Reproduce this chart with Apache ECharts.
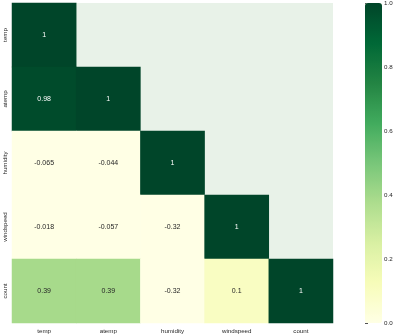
<!DOCTYPE html>
<html><head><meta charset="utf-8">
<script src="https://cdn.jsdelivr.net/npm/echarts@6/dist/echarts.min.js"></script>
<style>html,body{margin:0;padding:0;background:#fff}#c{width:396px;height:335px}</style>
</head><body><div id="c"></div>
<script>
const categories = ['temp', 'atemp', 'humidity', 'windspeed', 'count'];
const rowTemp = [1];
const rowAtemp = [0.98, 1];
const rowHumidity = [-0.065, -0.044, 1];
const rowWindspeed = [-0.018, -0.057, -0.32, 1];
const rowCount = [0.39, 0.39, -0.32, 0.1, 1];
const rows = [rowTemp, rowAtemp, rowHumidity, rowWindspeed, rowCount];
const colorbarTicks = [0, 0.2, 0.4, 0.6, 0.8, 1.0];
const ylgn = ['#ffffe5','#f7fcb9','#d9f0a3','#addd8e','#78c679','#41ab5d','#238443','#006837','#004529'];

const data = [];
rows.forEach((r, yi) => r.forEach((v, xi) => {
  data.push({ value: [xi, yi, v], label: { color: v >= 0.6 ? '#ffffff' : '#262626' } });
}));

const FONT = 'Liberation Sans, Arial, sans-serif';
const chart = echarts.init(document.getElementById('c'), null, { renderer: 'canvas' });
chart.setOption({
  animation: false,
  backgroundColor: '#ffffff',
  grid: [
    { left: 12, top: 3, width: 321, height: 320, show: true, backgroundColor: '#e8f2e8', borderWidth: 0 },
    { left: 365, top: 3, width: 17, height: 320, show: false }
  ],
  xAxis: [
    { type: 'category', data: categories, gridIndex: 0,
      axisLine: { show: false }, axisTick: { show: false }, splitLine: { show: false },
      axisLabel: { fontSize: 6.2, fontFamily: FONT, color: '#262626', margin: 5 } },
    { type: 'value', gridIndex: 1, show: false, min: 0, max: 1 }
  ],
  yAxis: [
    { type: 'category', data: categories, gridIndex: 0, inverse: true,
      axisLine: { show: false }, axisTick: { show: false }, splitLine: { show: false },
      axisLabel: { fontSize: 6.2, fontFamily: FONT, color: '#262626', rotate: 90, margin: 4 } },
    { type: 'value', gridIndex: 1, position: 'right', min: 0, max: 1, interval: 0.2,
      axisLine: { show: false }, splitLine: { show: false },
      axisTick: { show: true, length: 3, lineStyle: { color: '#262626', width: 0.8 } },
      axisLabel: { fontSize: 6.2, fontFamily: FONT, color: '#262626', margin: 2,
        formatter: v => v.toFixed(1) } }
  ],
  visualMap: {
    type: 'continuous', min: 0, max: 1, dimension: 2, seriesIndex: 0,
    left: 365, top: 3, itemWidth: 17, itemHeight: 320, padding: 0,
    calculable: false, text: null, showLabel: false,
    inRange: { color: ylgn }, outOfRange: { color: ['#ffffe5'] }
  },
  series: [{
    type: 'heatmap', xAxisIndex: 0, yAxisIndex: 0, data: data,
    itemStyle: { borderWidth: 0 },
    emphasis: { disabled: true },
    label: { show: true, fontSize: 7, fontFamily: FONT,
      formatter: p => String(p.value[2]) }
  }]
});
</script></body></html>
